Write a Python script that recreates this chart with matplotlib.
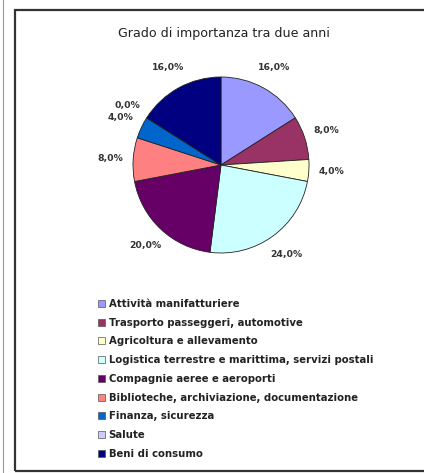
import matplotlib.pyplot as plt
from matplotlib.patches import Rectangle, Patch
from matplotlib.lines import Line2D

plt.rcParams['font.family'] = ['DejaVu Sans']

# Data
title = "Grado di importanza tra due anni"
categories = [
    "Attività manifatturiere",
    "Trasporto passeggeri, automotive",
    "Agricoltura e allevamento",
    "Logistica terrestre e marittima, servizi postali",
    "Compagnie aeree e aeroporti",
    "Biblioteche, archiviazione, documentazione",
    "Finanza, sicurezza",
    "Salute",
    "Beni di consumo",
]
values = [16.0, 8.0, 4.0, 24.0, 20.0, 8.0, 4.0, 0.0, 16.0]
colors = ["#9999FF", "#993366", "#FFFFCC", "#CCFFFF", "#660066",
          "#FF8080", "#0066CC", "#CCCCFF", "#000080"]

W, H = 424, 473
fig = plt.figure(figsize=(W / 100, H / 100), dpi=100)

# outer frame and scan border
fig.add_artist(Rectangle((15 / W, 2 / H), 1.0, (H - 12) / H, transform=fig.transFigure,
                         fill=False, edgecolor="#333333", linewidth=1.6))
fig.add_artist(Line2D([3 / W, 3 / W], [0, 1], transform=fig.transFigure,
                      color="#999999", linewidth=0.8))

fig.text(224 / W, 1 - 33 / H, title, ha="center", va="center",
         fontsize=9.1, color="#222222")

# pie axes: centre (221, 165) px, radius 88 px
cx, cy, r, half = 221, 165, 88, 110
ax = fig.add_axes([(cx - half) / W, (H - cy - half) / H, 2 * half / W, 2 * half / H])
wedges, texts, autotexts = ax.pie(
    values, colors=colors, startangle=90, counterclock=False,
    autopct=lambda p: f"{p:.1f}%".replace(".", ","), pctdistance=1.26,
    wedgeprops=dict(edgecolor="#222222", linewidth=0.6),
    textprops=dict(fontsize=6.7, fontweight="bold", color="#333333"))
ax.set_xlim(-half / r, half / r)
ax.set_ylim(-half / r, half / r)
ax.set_aspect("equal")
ax.axis("off")

handles = [Patch(facecolor=c, edgecolor="#555555", linewidth=0.5) for c in colors]
fig.legend(handles, categories, loc="upper left",
           bbox_to_anchor=(94 / W, 1 - 295 / H), frameon=False,
           prop=dict(size=7.3, weight="bold"), labelcolor="#222222",
           handlelength=0.7, handleheight=0.7, handletextpad=0.35,
           labelspacing=0.86, borderaxespad=0)

fig.savefig("out.png", dpi=100, facecolor="white")
